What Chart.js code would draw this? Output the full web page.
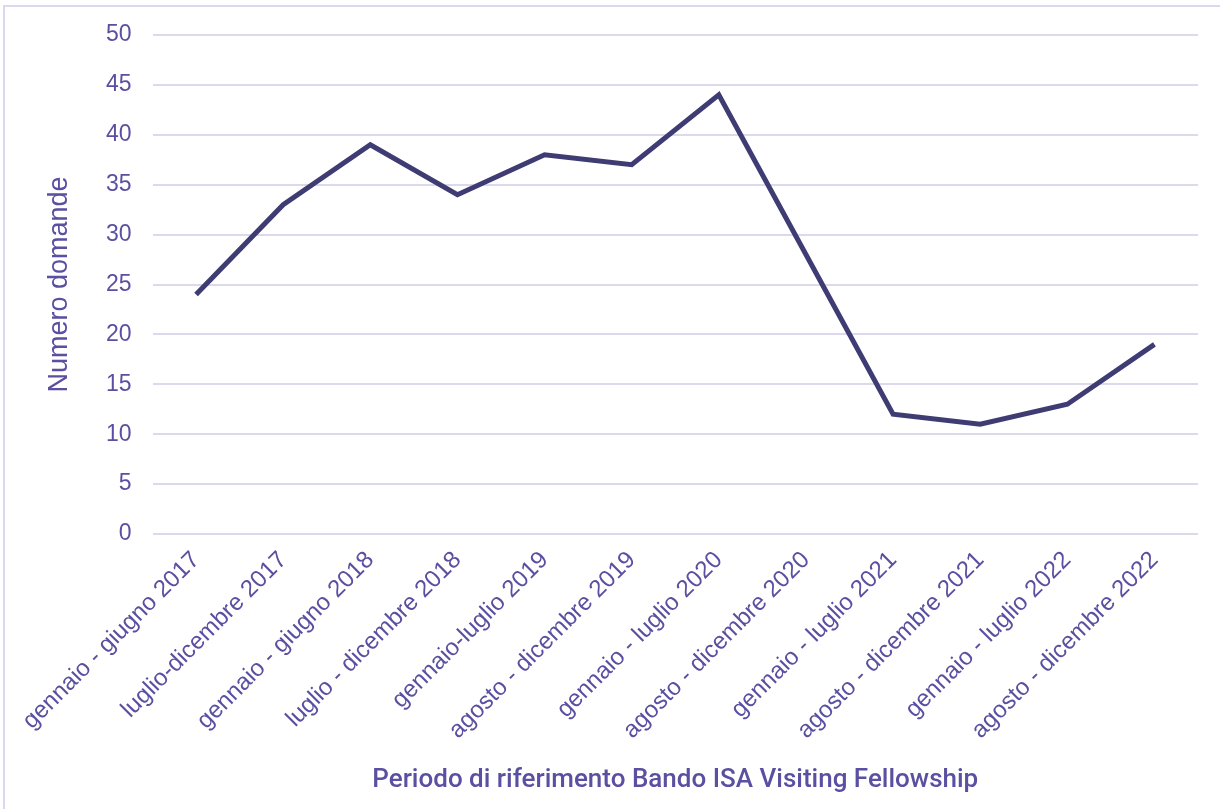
<!DOCTYPE html>
<html>
<head>
<meta charset="utf-8">
<script src="https://cdn.jsdelivr.net/npm/chart.js@4"></script>
<style>
  html, body { margin: 0; padding: 0; background: #fff; overflow: hidden; }
  #wrap { position: relative; width: 1220px; height: 809px; }
  #frame { position: absolute; left: 3px; top: 5px; width: 1240px; height: 840px; border: 2px solid #dcd8ee; box-sizing: border-box; }
  canvas { position: absolute; left: 0; top: 0; }
</style>
</head>
<body>
<div id="wrap">
  <div id="frame"></div>
  <canvas id="lineChart" width="1220" height="809"></canvas>
</div>
<script>
const periodi = [
  'gennaio - giugno 2017', 'luglio-dicembre 2017', 'gennaio - giugno 2018',
  'luglio - dicembre 2018', 'gennaio-luglio 2019', 'agosto - dicembre 2019',
  'gennaio - luglio 2020', 'agosto - dicembre 2020', 'gennaio - luglio 2021',
  'agosto - dicembre 2021', 'gennaio - luglio 2022', 'agosto - dicembre 2022'
];
const domande = [24, 33, 39, 34, 38, 37, 44, 28, 12, 11, 13, 19];
const yTicks = [0, 5, 10, 15, 20, 25, 30, 35, 40, 45, 50];

const textColor = '#5a4fa0';
const gridColor = '#dcd9ec';

const ctx = document.getElementById('lineChart').getContext('2d');

let chart = new Chart(ctx, {
  type: 'line',
  data: {
    labels: periodi,
    datasets: [{
      label: 'Numero domande',
      data: domande,
      borderColor: '#3f3c73',
      borderWidth: 5,
      pointRadius: 0,
      tension: 0,
      fill: false
    }]
  },
  options: {
    responsive: false,
    animation: false,
    layout: { padding: { top: 35, right: 22, left: 0, bottom: 0 } },
    plugins: { legend: { display: false }, tooltip: { enabled: false } },
    scales: {
      x: {
        offset: true,
        grid: { display: false, drawTicks: false },
        border: { display: false },
        ticks: {
          color: textColor,
          font: { family: 'Liberation Sans', size: 24 },
          maxRotation: 45,
          minRotation: 45,
          autoSkip: false,
          padding: 12
        },
        title: {
          display: true,
          text: 'Periodo di riferimento Bando ISA Visiting Fellowship',
          color: textColor,
          font: { family: 'Roboto', size: 26, weight: '500' },
          padding: { top: 0, bottom: 13 }
        },
        afterFit: function (axis) { axis.height = 275; }
      },
      y: {
        min: 0,
        max: 50,
        afterBuildTicks: function (axis) { axis.ticks = yTicks.map(v => ({ value: v })); },
        grid: { color: gridColor, lineWidth: 2, drawTicks: false },
        border: { display: false },
        ticks: {
          color: textColor,
          font: { family: 'Liberation Sans', size: 23 },
          padding: 21
        },
        title: {
          display: true,
          text: 'Numero domande',
          color: textColor,
          font: { family: 'Liberation Sans', size: 27 },
          padding: { top: 43, bottom: 0 }
        },
        afterFit: function (axis) { axis.width = 152.5; }
      }
    }
  }
});
</script>
</body>
</html>
